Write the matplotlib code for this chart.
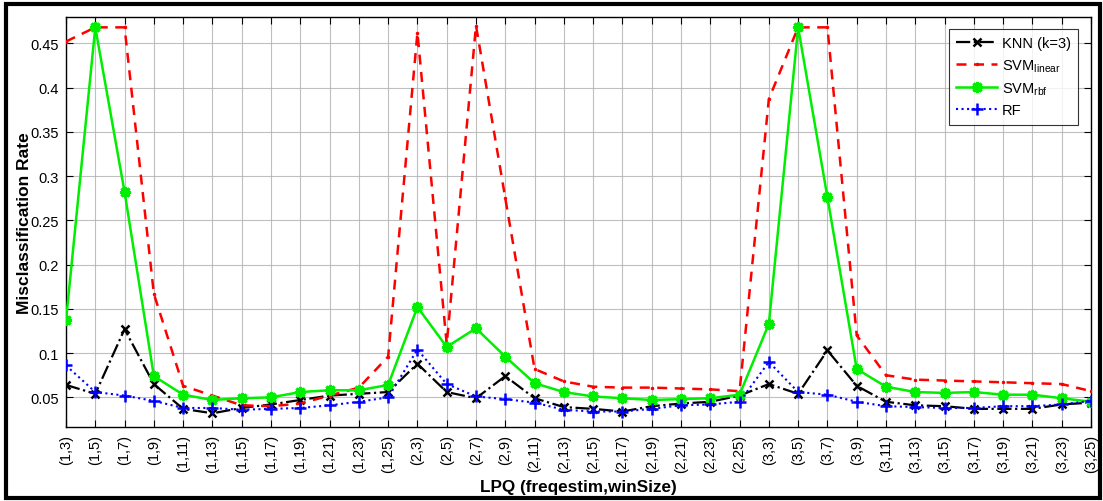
import matplotlib
matplotlib.use("Agg")
import matplotlib.pyplot as plt
from matplotlib.patches import Rectangle

plt.rcParams['font.family'] = ['Liberation Sans', 'DejaVu Sans']
plt.rcParams['mathtext.fontset'] = 'custom'
plt.rcParams['mathtext.rm'] = 'Liberation Sans'

freqs = [1, 2, 3]
wins = [3, 5, 7, 9, 11, 13, 15, 17, 19, 21, 23, 25]
labels = [f"({f},{w})" for f in freqs for w in wins]

knn = [0.064, 0.054, 0.127, 0.065, 0.037, 0.032, 0.038, 0.042, 0.047, 0.052, 0.054, 0.056,
       0.088, 0.056, 0.049, 0.074, 0.049, 0.039, 0.037, 0.034, 0.040, 0.043, 0.045, 0.052,
       0.065, 0.054, 0.103, 0.063, 0.045, 0.041, 0.040, 0.037, 0.037, 0.037, 0.042, 0.044]
svm_linear = [0.452, 0.468, 0.468, 0.167, 0.063, 0.052, 0.041, 0.040, 0.043, 0.052, 0.061, 0.096,
              0.462, 0.110, 0.470, 0.275, 0.082, 0.068, 0.062, 0.061, 0.061, 0.060, 0.059, 0.057,
              0.387, 0.468, 0.468, 0.120, 0.075, 0.070, 0.069, 0.068, 0.067, 0.066, 0.065, 0.057]
svm_rbf = [0.137, 0.468, 0.282, 0.074, 0.053, 0.047, 0.049, 0.050, 0.056, 0.058, 0.058, 0.064,
           0.152, 0.107, 0.128, 0.096, 0.066, 0.056, 0.051, 0.049, 0.047, 0.048, 0.049, 0.053,
           0.133, 0.468, 0.276, 0.082, 0.062, 0.056, 0.055, 0.056, 0.053, 0.053, 0.049, 0.045]
rf = [0.086, 0.056, 0.052, 0.046, 0.038, 0.038, 0.036, 0.037, 0.038, 0.041, 0.045, 0.050,
      0.104, 0.065, 0.051, 0.048, 0.044, 0.036, 0.034, 0.034, 0.037, 0.041, 0.042, 0.045,
      0.090, 0.056, 0.053, 0.045, 0.040, 0.039, 0.038, 0.038, 0.040, 0.040, 0.042, 0.046]

x = list(range(1, len(labels) + 1))

fig = plt.figure(figsize=(11.03, 5.02), dpi=100)
ax = fig.add_axes([66/1103, 74/502, (1091-66)/1103, (428-18)/502])

ax.plot(x, knn, color='black', linestyle='-.', marker='x', ms=6, mew=1.8, lw=1.6,
        label='KNN (k=3)', zorder=3)
ax.plot(x, svm_linear, color='red', linestyle=(0, (4, 3)), marker='.', ms=3, lw=1.8,
        label=r'SVM$_{\mathrm{linear}}$', zorder=3)
ax.plot(x, svm_rbf, color='#00ee00', linestyle='-', marker=(8, 2, 0), ms=8, mew=2.2, lw=1.8,
        label=r'SVM$_{\mathrm{rbf}}$', zorder=3)
ax.plot(x, rf, color='blue', linestyle=':', marker='+', ms=8, mew=1.8, lw=1.5,
        label='RF', zorder=3)

ax.set_xlim(1, 36)
ax.set_ylim(0.0165, 0.4797)
ax.set_xticks(x)
ax.set_xticklabels(labels, rotation=90, fontsize=10.5)
yt = [0.05, 0.1, 0.15, 0.2, 0.25, 0.3, 0.35, 0.4, 0.45]
ax.set_yticks(yt)
ax.set_yticklabels(['0.05', '0.1', '0.15', '0.2', '0.25', '0.3', '0.35', '0.4', '0.45'], fontsize=10.5)
ax.tick_params(direction='in', top=True, right=True, length=5, width=0.8, pad=5)
ax.grid(True, color='#b0b0b0', linewidth=0.8, alpha=0.8)
ax.set_axisbelow(True)
for s in ax.spines.values():
    s.set_linewidth(1.0)

ax.set_ylabel('Misclassification Rate', fontsize=12.5, fontweight='bold')
ax.yaxis.set_label_coords(-0.033, 0.5)
ax.set_xlabel('LPQ (freqestim,winSize)', fontsize=12.3, fontweight='bold')
ax.xaxis.set_label_coords(0.5, -0.126)

leg = ax.legend(loc='upper right', bbox_to_anchor=(1 - 13/1025, 1 - 12/410), borderaxespad=0,
                fontsize=10.5, frameon=True, fancybox=False, edgecolor='black',
                handlelength=2.8, labelspacing=0.45, handletextpad=0.3, borderpad=0.5)
leg.get_frame().set_linewidth(0.8)

fig.patches.append(Rectangle((6/1103, 3/502), 1094/1103, 494/502, transform=fig.transFigure,
                             fill=False, edgecolor='black', linewidth=3))

fig.savefig('out.png', dpi=100)
